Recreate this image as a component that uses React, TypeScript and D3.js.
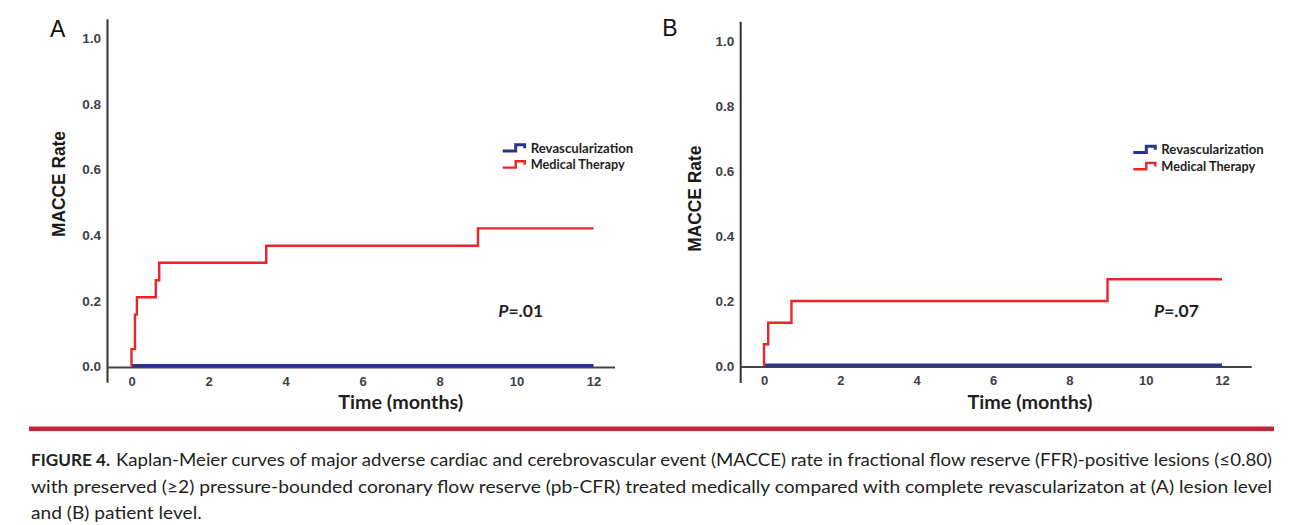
import React, { useEffect, useRef } from "react";
import * as d3 from "d3";

const monthTicks = [0, 2, 4, 6, 8, 10, 12];
const rateTicks = [0, 0.2, 0.4, 0.6, 0.8, 1.0];

// (A) lesion level
const lesionMedicalMonths = [0, 0, 0.09, 0.14, 0.63, 0.72, 3.5, 9.0, 12];
const lesionMedicalRate = [0, 0.053, 0.158, 0.211, 0.263, 0.316, 0.368, 0.421, 0.421];
const lesionRevascMonths = [0, 12];
const lesionRevascRate = [0, 0];

// (B) patient level
const patientMedicalMonths = [0, 0, 0.11, 0.72, 9.0, 12];
const patientMedicalRate = [0, 0.067, 0.133, 0.2, 0.267, 0.267];
const patientRevascMonths = [0, 12];
const patientRevascRate = [0, 0];

const seriesNames = ["Revascularization", "Medical Therapy"];
const seriesColors = ["#26358c", "#ec2329"];
const pValueText = [".01", ".07"];

const captionLines = [
  "Kaplan-Meier curves of major adverse cardiac and cerebrovascular event (MACCE) rate in fractional flow reserve (FFR)-positive lesions (≤0.80)",
  "with preserved (≥2) pressure-bounded coronary flow reserve (pb-CFR) treated medically compared with complete revascularizaton at (A) lesion level",
  "and (B) patient level.",
];

const zip = (xs: number[], ys: number[]) => xs.map((x, i) => [x, ys[i]] as [number, number]);

const panels = [
  {
    letter: "A",
    revasc: zip(lesionRevascMonths, lesionRevascRate),
    medical: zip(lesionMedicalMonths, lesionMedicalRate),
    p: pValueText[0],
    xr: [131.5, 593.5], yr: [366.5, 38.3],
    axisX: 107.5, axisTop: 19.3, axisBottom: 382.7, baseEnd: 615,
    letterPos: [57.7, 36.7], yLabelPos: [65, 184], timeX: 400.7,
    legendX: 502.7, legendY: 152.7, pPos: [498.3, 317.3],
  },
  {
    letter: "B",
    revasc: zip(patientRevascMonths, patientRevascRate),
    medical: zip(patientMedicalMonths, patientMedicalRate),
    p: pValueText[1],
    xr: [764, 1222], yr: [366, 41],
    axisX: 740.7, axisTop: 21.7, axisBottom: 383, baseEnd: 1251.7,
    letterPos: [670, 36], yLabelPos: [700.5, 198.7], timeX: 1030,
    legendX: 1133.3, legendY: 154.3, pPos: [1154, 316.7],
  },
];

const SANS = "'Liberation Sans', Arial, sans-serif";
const HUMAN = "Lato, 'Open Sans', sans-serif";

export default function App() {
  const svgRef = useRef<SVGSVGElement>(null);

  useEffect(() => {
    if (!svgRef.current) return;
    const svg = d3.select(svgRef.current);
    svg.selectAll("*").remove();

    panels.forEach((p) => {
      const g = svg.append("g");
      const x = d3.scaleLinear().domain([0, 12]).range(p.xr);
      const y = d3.scaleLinear().domain([0, 1]).range(p.yr);
      const y0 = y(0);

      // axis lines
      g.append("line")
        .attr("x1", p.axisX).attr("x2", p.axisX)
        .attr("y1", p.axisTop).attr("y2", p.axisBottom)
        .attr("stroke", "#333").attr("stroke-width", 2);
      g.append("line")
        .attr("x1", p.axisX).attr("x2", p.baseEnd)
        .attr("y1", y0 + 1).attr("y2", y0 + 1)
        .attr("stroke", "#444").attr("stroke-width", 1.8);

      // y ticks
      const yAxis = d3.axisLeft(y).tickValues(rateTicks).tickFormat(d3.format(".1f")).tickSize(0).tickPadding(6.5);
      const yg = g.append("g").attr("transform", `translate(${p.axisX},0)`).call(yAxis);
      yg.select(".domain").remove();
      yg.selectAll("text")
        .attr("font-family", SANS).attr("font-size", 13.5).attr("font-weight", "bold").attr("fill", "#3e3e48");

      // x ticks
      const xAxis = d3.axisBottom(x).tickValues(monthTicks).tickFormat(d3.format("d")).tickSize(0).tickPadding(10);
      const xg = g.append("g").attr("transform", `translate(0,${y0})`).call(xAxis);
      xg.select(".domain").remove();
      xg.selectAll("text")
        .attr("font-family", SANS).attr("font-size", 13).attr("font-weight", "bold").attr("fill", "#3e3e48");

      const line = d3.line<[number, number]>()
        .x((d) => x(d[0]))
        .y((d) => y(d[1]))
        .curve(d3.curveStepAfter);

      g.append("path")
        .attr("d", line(p.revasc))
        .attr("transform", "translate(0,-1)")
        .attr("fill", "none").attr("stroke", seriesColors[0]).attr("stroke-width", 3.2);
      g.append("path")
        .attr("d", line(p.medical))
        .attr("fill", "none").attr("stroke", seriesColors[1]).attr("stroke-width", 2.4);

      // panel letter
      g.append("text")
        .attr("x", p.letterPos[0]).attr("y", p.letterPos[1])
        .attr("text-anchor", "middle")
        .attr("font-family", SANS).attr("font-size", 23).attr("fill", "#111")
        .text(p.letter);

      // y label
      g.append("text")
        .attr("transform", `translate(${p.yLabelPos[0]},${p.yLabelPos[1]}) rotate(-90)`)
        .attr("text-anchor", "middle")
        .attr("font-family", SANS).attr("font-size", 17.5).attr("font-weight", "bold").attr("fill", "#1a1a1a")
        .attr("textLength", 106).attr("lengthAdjust", "spacingAndGlyphs")
        .text("MACCE Rate");

      // x label
      g.append("text")
        .attr("x", p.timeX).attr("y", 409)
        .attr("text-anchor", "middle")
        .attr("font-family", HUMAN).attr("font-size", 18.5).attr("font-weight", "bold").attr("fill", "#231f20")
        .attr("textLength", 125).attr("lengthAdjust", "spacingAndGlyphs")
        .text("Time (months)");

      // legend
      const widths = [102.5, 94];
      seriesNames.forEach((name, i) => {
        const b = p.legendY + i * 16.6;
        const lx = p.legendX;
        g.append("path")
          .attr("d", `M${lx},${b - 1.7}H${lx + 13}V${b - 8}H${lx + 22}V${b - 4.5}`)
          .attr("fill", "none").attr("stroke", seriesColors[i]).attr("stroke-width", i === 0 ? 3 : 2.4);
        g.append("text")
          .attr("x", lx + 28).attr("y", b)
          .attr("font-family", HUMAN).attr("font-size", 13.5).attr("font-weight", "bold").attr("fill", "#231f20")
          .attr("textLength", widths[i]).attr("lengthAdjust", "spacingAndGlyphs")
          .text(name);
      });

      // p value
      const pt = g.append("text")
        .attr("x", p.pPos[0]).attr("y", p.pPos[1])
        .attr("font-family", HUMAN).attr("font-size", 17.5).attr("font-weight", "bold").attr("fill", "#231f20");
      pt.append("tspan").attr("font-style", "italic").text("P");
      pt.append("tspan").text("=" + p.p);
    });

    // separator
    svg.append("rect")
      .attr("x", 29).attr("y", 426.5).attr("width", 1245).attr("height", 4.6)
      .attr("fill", "#c2233b");

    // caption
    const cap = svg.append("g")
      .attr("font-family", HUMAN).attr("font-size", 17.5).attr("fill", "#231f20");
    cap.append("text")
      .attr("x", 31).attr("y", 466)
      .attr("font-weight", "bold")
      .attr("textLength", 79).attr("lengthAdjust", "spacingAndGlyphs")
      .text("FIGURE 4.");
    const lineX = [116, 31, 31];
    const lineEnd = [1272, 1272, 201.7];
    const lineY = [466, 493, 519];
    captionLines.forEach((t, i) => {
      cap.append("text")
        .attr("x", lineX[i]).attr("y", lineY[i])
        .attr("textLength", lineEnd[i] - lineX[i]).attr("lengthAdjust", "spacingAndGlyphs")
        .text(t);
    });
  }, []);

  return (
    <svg
      ref={svgRef}
      width={1300}
      height={525}
      viewBox="0 0 1300 525"
      style={{ position: "absolute", left: 0, top: 0, background: "#fff" }}
    />
  );
}
